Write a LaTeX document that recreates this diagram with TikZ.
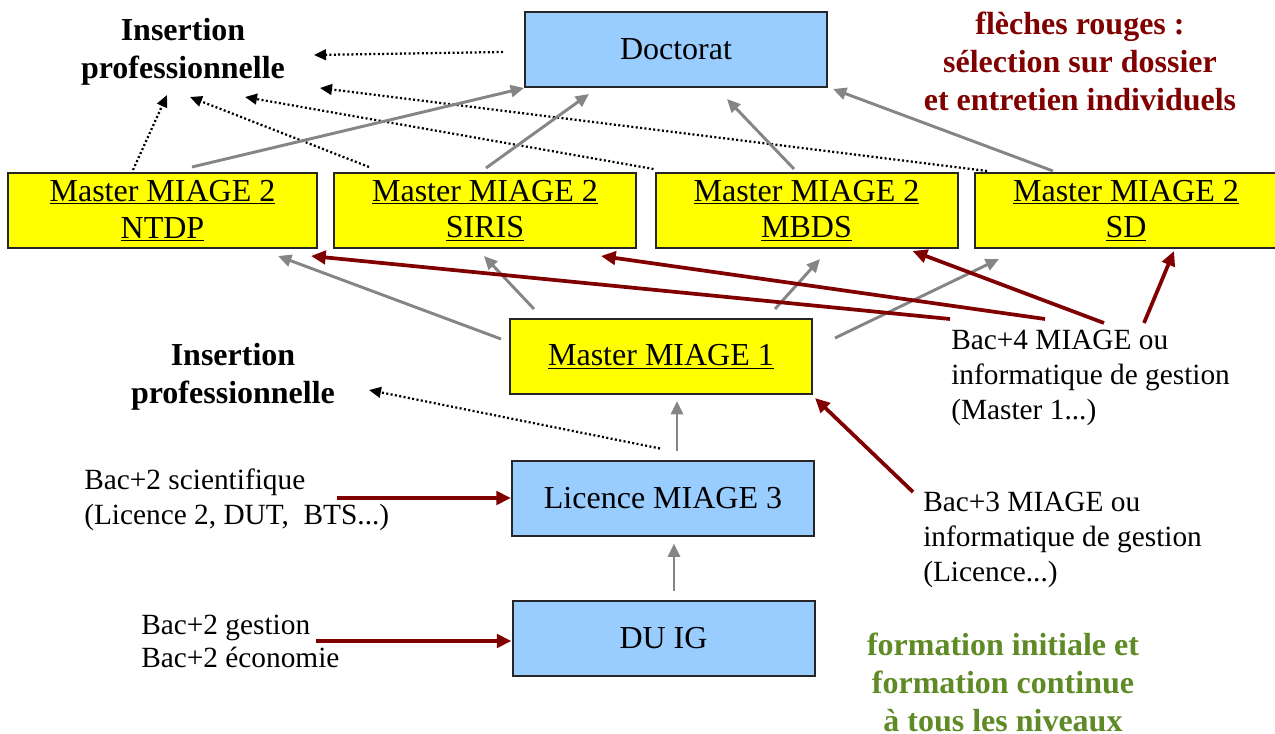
\documentclass[tikz,border=0pt]{standalone}
\usepackage{fontspec}
\setmainfont{Liberation Serif}
\usetikzlibrary{arrows.meta,calc}
\definecolor{boxblue}{HTML}{99CCFF}
\definecolor{boxyellow}{HTML}{FFFF00}
\definecolor{flechegris}{HTML}{858585}
\definecolor{flecherouge}{HTML}{800000}
\definecolor{vertolive}{HTML}{5F8B26}

\begin{document}
\begin{tikzpicture}[x=0.75pt,y=-0.75pt,
	every node/.style={font=\fontsize{24}{27.5}\selectfont},
	diplome/.style={draw=black!85, line width=1.5pt, minimum width=226.5pt, minimum height=56.25pt, inner sep=0pt, align=center},
	bleu/.style={diplome, fill=boxblue},
	jaune/.style={diplome, fill=boxyellow},
	legende/.style={inner sep=0pt, align=left, anchor=west, font=\fontsize{22}{26.5}\selectfont},
	titre/.style={inner sep=0pt, align=center, font=\fontsize{24}{28.5}\selectfont\bfseries},
	gris/.style={draw=flechegris, line width=2.2pt, -{Triangle[length=10pt,width=9pt]}},
	rouge/.style={draw=flecherouge, line width=2.8pt, -{Triangle[length=11pt,width=10pt]}},
	pointille/.style={line width=1.7pt, dash pattern=on 1.5pt off 1.8pt, -{Triangle[length=9pt,width=8pt]}}]
	\useasboundingbox (0,0) rectangle (1275,734);
	% diplomes
	\node[bleu] (doct) at (676,49.5) {Doctorat};
	\node[jaune, minimum width=231.75pt] (ntdp) at (162.5,210.5) {\underline{Master MIAGE 2}\\\underline{NTDP}};
	\node[jaune] (siris) at (485,210.5) {\underline{Master MIAGE 2}\\\underline{SIRIS}};
	\node[jaune] (mbds) at (806.5,210.5) {\underline{Master MIAGE 2}\\\underline{MBDS}};
	\node[jaune] (sd) at (1126,210.5) {\underline{Master MIAGE 2}\\\underline{SD}};
	\node[jaune] (m1) at (661,356.5) {\underline{Master MIAGE 1}};
	\node[bleu] (lic) at (663,498) {Licence MIAGE 3};
	\node[bleu] (duig) at (663.5,638) {DU IG};
	% textes
	\node[titre] (ins1) at (183,52) {Insertion\\professionnelle};
	\node[titre] (ins2) at (233,377) {Insertion\\professionnelle};
	\node[titre, text=flecherouge] (note) at (1080,61) {flèches rouges :\\sélection sur dossier\\et entretien individuels};
	\node[titre, text=vertolive] (formation) at (1003,682) {formation initiale et\\formation continue\\à tous les niveaux};
	\node[legende] (bac4) at (951,378) {Bac+4 MIAGE ou\\informatique de gestion\\(Master 1...)};
	\node[legende] (bac3) at (923,540) {Bac+3 MIAGE ou\\informatique de gestion\\(Licence...)};
	\node[legende] (bac2s) at (84,500) {Bac+2 scientifique\\(Licence 2, DUT,\ \ BTS...)};
	\node[legende, font=\fontsize{22}{25}\selectfont] (bac2g) at (141,641.5) {Bac+2 gestion\\Bac+2 économie};
	% vers l'insertion professionnelle
	\draw[pointille] ($(doct.west)+(-21,2.5)$) -- ($(ins1)+(131,3)$);
	\draw[pointille] ($(sd.north west)+(13,-1)$) -- ($(ins1)+(137,36)$);
	\draw[pointille] ($(mbds.north west)+(-1,-3)$) -- ($(ins1)+(62,45)$);
	\draw[pointille] ($(siris.north west)+(36,-5)$) -- ($(ins1)+(7,45)$);
	\draw[pointille] ($(ntdp.north)+(-29.5,-2)$) -- ($(ins1)+(-16,43)$);
	\draw[pointille] ($(lic.north)+(-3,-11)$) -- ($(ins2)+(136,13)$);
	% vers le doctorat
	\draw[gris] ($(ntdp.north)+(29.5,-5)$) -- (doct.south west);
	\draw[gris] ($(siris.north)+(1,-4)$) -- ($(doct.south west)+(65,6)$);
	\draw[gris] ($(mbds.north)+(-12.5,-3)$) -- ($(doct.south)+(51,11)$);
	\draw[gris] ($(sd.north)+(-73,-1)$) -- ($(doct.south east)+(5,1)$);
	% master 1 vers les masters 2, puis la filiere
	\draw[gris] ($(m1.west)+(-8,-17.5)$) -- ($(ntdp.south)+(115.5,7)$);
	\draw[gris] ($(m1.north west)+(25,-9)$) -- ($(siris.south)+(-1,7)$);
	\draw[gris] ($(m1.north east)+(-38,-9)$) -- ($(mbds.south)+(13.5,10)$);
	\draw[gris] ($(m1.east)+(22,-18.5)$) -- ($(sd.south west)+(25,10)$);
	\draw[gris] ($(lic.north)+(14,-9)$) -- ($(m1.south)+(16,6)$);
	\draw[gris] ($(duig.north)+(10.5,-9)$) -- ($(lic.south)+(11,7)$);
	% fleches rouges
	\draw[rouge] ($(bac4.west)+(-1,-59)$) -- ($(ntdp.south east)+(-7,7)$);
	\draw[rouge] ($(bac4.west)+(94,-59)$) -- ($(siris.south east)+(-36,7)$);
	\draw[rouge] ($(bac4.west)+(153,-55)$) -- ($(mbds.south east)+(-46,2)$);
	\draw[rouge] ($(bac4.west)+(193,-55)$) -- ($(sd.south)+(48,2)$);
	\draw[rouge] ($(bac3.west)+(-10,-48)$) -- ($(m1.south east)+(2,3)$);
	\draw[rouge] ($(bac2s.west)+(253,-2)$) -- (lic.west);
	\draw[rouge] ($(bac2g.west)+(175,-0.5)$) -- ($(duig.west)+(0,3)$);
\end{tikzpicture}
\end{document}
